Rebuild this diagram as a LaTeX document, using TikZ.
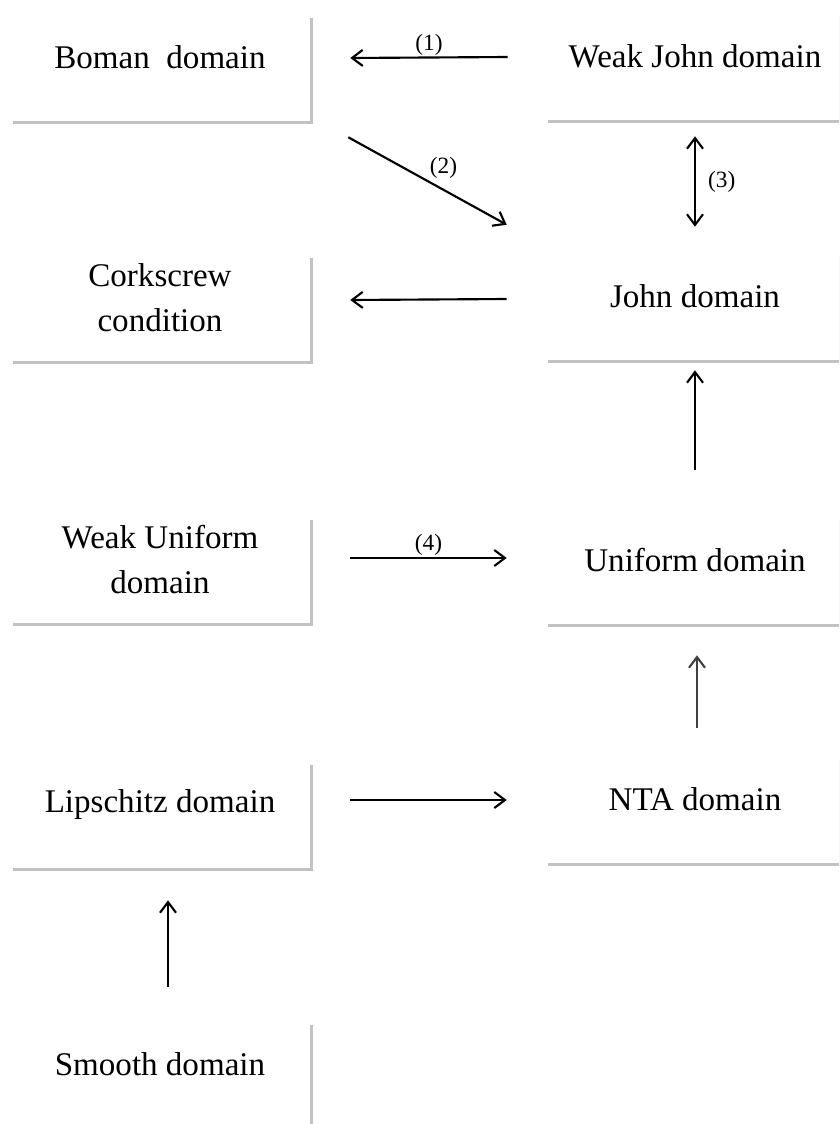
\documentclass[tikz,border=0pt]{standalone}
\usepackage{fontspec}
\setmainfont{Liberation Serif}
\usetikzlibrary{arrows.meta,shadows}
\newcommand\dombegin{\begin{minipage}[c][79.5pt][c]{225pt}\centering}
\newcommand\domend{\endgraf\vspace{16pt}\end{minipage}}
\tikzset{
	dombox/.style={rectangle,fill=white,inner sep=0pt,
		drop shadow={shadow xshift=2.5pt,shadow yshift=-2.5pt,opacity=0.4,fill=black!60},
		font=\fontsize{24.8}{33.8}\selectfont,
		execute at begin node=\dombegin,
		execute at end node=\domend},
	arr/.style={line width=1.6pt,-{Straight Barb[length=8pt,width=12pt,line width=1.6pt]}},
	num/.style={font=\fontsize{17.5}{19}\selectfont,inner sep=1pt}
}

\begin{document}
\begin{tikzpicture}[x=0.75pt,y=-0.75pt]
\path[use as bounding box,clip] (0,0) rectangle (839,1124);
\node[dombox] (boman) at (160,68) {Boman~ domain};
\node[dombox] (weakjohn) at (695,67) {Weak John domain};
\node[dombox] (cork) at (160,308) {Corkscrew\\condition};
\node[dombox] (john) at (695,307) {John domain};
\node[dombox] (wuni) at (160,570) {Weak Uniform\\domain};
\node[dombox] (uni) at (695,571) {Uniform domain};
\node[dombox] (lip) at (160,815) {Lipschitz domain};
\node[dombox] (nta) at (695,810) {NTA domain};
\node[dombox] (smooth) at (160,1075) {Smooth domain};
% implications
\draw[arr] ([shift={(-37,-10)}]weakjohn.west) -- ([shift={(40,-10)}]boman.east) node[num,midway,above]{(1)};
\draw[arr] ([shift={(38,16)}]boman.south east) -- ([shift={(-38,-29)}]john.north west) node[num,midway,above right=0pt]{(2)};
\draw[line width=1.6pt,{Straight Barb[length=8pt,width=12pt,line width=1.6pt]}-{Straight Barb[length=8pt,width=12pt,line width=1.6pt]}] ([shift={(0,16)}]weakjohn.south) -- ([shift={(0,-27)}]john.north) node[num,midway,right=8pt]{(3)};
\draw[arr] ([shift={(-38,-8)}]john.west) -- ([shift={(40,-8)}]cork.east);
\draw[arr] ([shift={(0,-48)}]uni.north) -- ([shift={(0,10)}]john.south);
\draw[arr] ([shift={(40,-12)}]wuni.east) -- ([shift={(-38,-13)}]uni.west) node[num,midway,above]{(4)};
\draw[arr,draw=black!75] ([shift={(2,-29)}]nta.north) -- ([shift={(2,31)}]uni.south);
\draw[arr] ([shift={(40,-15)}]lip.east) -- ([shift={(-38,-10)}]nta.west);
\draw[arr] ([shift={(8,-35)}]smooth.north) -- ([shift={(8,32)}]lip.south);
\end{tikzpicture}
\end{document}
